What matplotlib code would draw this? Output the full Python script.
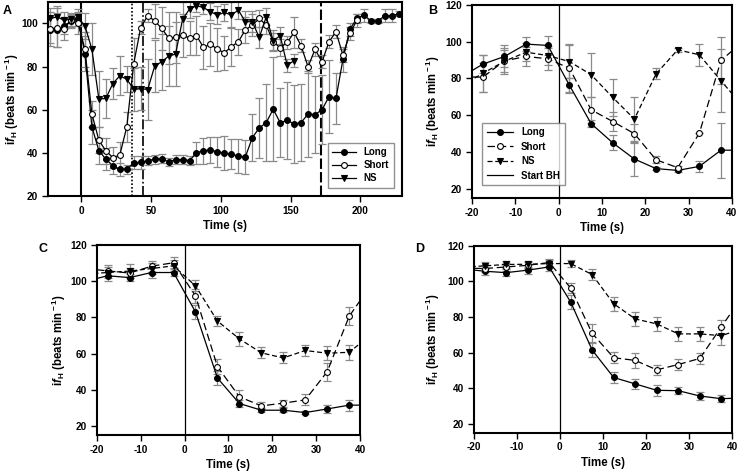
import numpy as np
import matplotlib
matplotlib.use('Agg')
import matplotlib.pyplot as plt

plt.rcParams['font.family'] = ['Liberation Sans', 'DejaVu Sans']
plt.rcParams['font.weight'] = 'bold'
plt.rcParams['axes.labelweight'] = 'bold'
plt.rcParams['axes.unicode_minus'] = False
plt.rcParams['mathtext.fontset'] = 'custom'
plt.rcParams['mathtext.rm'] = 'Liberation Sans:bold'
plt.rcParams['mathtext.it'] = 'Liberation Sans:bold:italic'
plt.rcParams['mathtext.bf'] = 'Liberation Sans:bold'

# ---------------- Panel A data ----------------
tA = np.arange(-22.5, 230, 5)
long_A = [97, 97, 99, 101, 102, 86, 52, 41, 37, 34, 32.3, 32.3, 35.3, 35.5, 36.4,
          37, 37.2, 35.8, 36.8, 36.8, 36.4, 40, 41, 41.3, 40.4, 39.8, 39.3, 38.5,
          38, 47, 51.5, 54, 60.2, 54, 55, 53.4, 54, 58, 57.7, 60, 66, 65.2, 83.3,
          97.4, 102.3, 103.9, 101.2, 101.2, 103.5, 103.5, 104.6]
long_A_err = [6, 8, 4, 3, 3, 8, 8, 6, 5, 4, 3, 2, 3, 3, 2, 2, 2, 2, 2, 2, 2, 5, 6,
              6, 7, 8, 7, 8, 8, 11, 14, 18, 24, 16, 18, 18, 18, 20, 18, 16, 17, 12,
              6, 3, 2, 3, 1, 1, 3, 3, 1]
short_A = [97.4, 98, 97.5, 101.5, 100.3, 88, 58, 45.8, 40.9, 37.8, 38.9, 52, 81.4,
           98.1, 103.6, 101.2, 97.7, 93.3, 93.5, 94.6, 93.3, 94.3, 88.9, 90.4, 88,
           86.4, 89.2, 91.5, 97, 99.2, 102.3, 99.2, 91.5, 88.7, 91.2, 95.8, 89.6,
           79.9, 88, 82.2, 91.5, 96.1, 85.3, 95.4, 101.5]
short_A_err = [8, 9, 5, 3, 5, 8, 6, 6, 6, 5, 6, 7, 12, 3, 3, 8, 10, 12, 12, 10, 8,
               9, 10, 10, 10, 8, 9, 6, 6, 5, 4, 4, 4, 4, 3, 7, 3, 3, 3, 3, 3, 3, 3,
               3, 3]
ns_A = [102.3, 103, 101.5, 102, 102.8, 98.9, 88, 64.9, 65.2, 72.1, 75.7, 74.1, 69.5,
        69.8, 69.3, 80.2, 82.2, 84.8, 85.8, 101.9, 106.7, 108.2, 107.4, 105.4, 103.9,
        105.1, 103.9, 106.2, 100.8, 100.8, 93.5, 103.1, 92, 94.3, 80.7, 82.7]
ns_A_err = [5, 5, 4, 3, 4, 6, 12, 13, 9, 7, 9, 6, 10, 10, 14, 12, 13, 14, 15, 8, 4,
            3, 3, 4, 4, 4, 6, 4, 5, 5, 5, 4, 5, 4, 3, 3]
vlines_A = [0, 36, 44, 172]

# ---------------- Panels B, C, D data ----------------
tB = [-22.5, -17.5, -12.5, -7.5, -2.5, 2.5, 7.5, 12.5, 17.5, 22.5, 27.5, 32.5, 37.5, 42.5]

long_B = [80.8, 87.8, 92, 98.7, 98, 76.3, 55.5, 45, 36.2, 31, 30, 32.2, 41, 41]
short_B = [81, 80.7, 89.6, 92, 90.7, 85.6, 63, 56.6, 50, 35.8, 31.5, 50.2, 89.8, 100]
ns_B = [76, 82.8, 89.4, 94.3, 92.5, 89.2, 82.1, 69.7, 57.9, 82.5, 95.6, 92.9, 78.8, 65]
long_B_err = [4, 5, 6, 4, 5, 4, 2, 4, 9, 1, 1, 3, 15, 3]
short_B_err = [6, 8, 7, 5, 6, 13, 7, 5, 5, 2, 1, 0, 13, 5]
ns_B_err = [6, 10, 6, 5, 5, 9, 12, 10, 12, 3, 1, 6, 17, 5]

long_C = [100, 103, 102, 104.8, 104.8, 83, 46.5, 32.4, 28.7, 28.7, 27.4, 29.4, 31.5, 31.5]
short_C = [107, 105.7, 104.5, 108.3, 110.2, 91.9, 52.8, 36.1, 31.1, 32.6, 34.4, 50, 80.6, 98]
ns_C = [104, 104.8, 105.6, 107, 108.5, 97.4, 78, 68.1, 60.4, 57.6, 61.7, 60.2, 60.7, 70.5]
long_C_err = [3, 3, 2, 3, 2, 4, 4, 2, 1, 1, 1, 2, 3, 3]
short_C_err = [3, 3, 3, 3, 3, 4, 4, 4, 2, 2, 3, 5, 5, 5]
ns_C_err = [3, 3, 4, 3, 3, 3, 3, 4, 3, 3, 3, 4, 4, 4]

long_D = [107, 105.7, 104.9, 106.3, 108.1, 88.4, 61.4, 46, 42.4, 38.8, 38.6, 35.6, 34.1, 34.5]
short_D = [107.5, 107.2, 108.1, 109, 110.6, 96.3, 70.8, 57.1, 55.6, 50.3, 53.3, 56.7, 74.4, 92]
ns_D = [108, 108.7, 109.5, 109.6, 110, 110, 103.8, 87.4, 78.9, 76.1, 70.5, 70.5, 69.5, 73.5]
long_D_err = [2, 2, 2, 2, 2, 4, 4, 3, 3, 3, 2, 2, 2, 2]
short_D_err = [2, 2, 2, 2, 2, 3, 5, 3, 4, 3, 3, 3, 4, 4]
ns_D_err = [2, 2, 2, 2, 2, 2, 3, 4, 4, 4, 4, 4, 5, 5]

ylabel = r'i$f_{\rm H}$ (beats min$^{\rm -1}$)'

ECOL = '#8a8a8a'
MS = 4.2
TICKFS = 7.2
LABFS = 8.3

fig = plt.figure(figsize=(7.38, 4.72), dpi=100)
axA = fig.add_axes([0.065, 0.585, 0.48, 0.411])
axB = fig.add_axes([0.6396, 0.5805, 0.352, 0.409])
axC = fig.add_axes([0.131, 0.0784, 0.357, 0.4025])
axD = fig.add_axes([0.642, 0.0833, 0.35, 0.396])


def style_axes(ax):
    for s in ax.spines.values():
        s.set_linewidth(1.5)
    ax.tick_params(direction='out', length=4, width=1, labelsize=TICKFS, pad=3)
    for lab in ax.get_xticklabels() + ax.get_yticklabels():
        lab.set_fontweight('bold')


def draw_series(ax, t, y, e, marker, face, ls, dashes=None, lw=0.9, label=None):
    t = np.asarray(t, float)[:len(y)]
    ax.errorbar(t, y, yerr=e, fmt='none', ecolor=ECOL, elinewidth=0.9,
                capsize=3, capthick=0.9, zorder=2)
    kw = dict(color='black', lw=lw, marker=marker, markersize=MS,
              markerfacecolor=face, markeredgecolor='black',
              markeredgewidth=0.8, zorder=3, label=label, linestyle=ls)
    line, = ax.plot(t, y, **kw)
    if dashes is not None:
        line.set_dashes(dashes)
    return line


# ---- Panel A ----
draw_series(axA, tA, long_A, long_A_err, 'o', 'black', '-', label='Long')
draw_series(axA, tA, short_A, short_A_err, 'o', 'white', '-', label='Short')
draw_series(axA, tA, ns_A, ns_A_err, 'v', 'black', '-', label='NS')
axA.axvline(vlines_A[0], color='black', lw=1.5, zorder=1)
axA.axvline(vlines_A[1], color='black', lw=1.2, ls=(0, (1, 1.2)), zorder=1)
axA.axvline(vlines_A[2], color='black', lw=1.2, ls=(0, (6, 1.5, 1, 1.5)), zorder=1)
axA.axvline(vlines_A[3], color='black', lw=1.5, ls=(0, (5, 1.5)), zorder=1)
axA.set_xlim(-24, 230)
axA.set_ylim(20, 110)
axA.set_xticks([0, 50, 100, 150, 200])
axA.set_yticks([20, 40, 60, 80, 100])
axA.set_xlabel('Time (s)', fontsize=LABFS, fontweight='bold', labelpad=3)
axA.set_ylabel(ylabel, fontsize=LABFS, fontweight='bold')
axA.yaxis.set_label_coords(-0.076, 0.5)
legA = axA.legend(loc='lower right', fontsize=7, frameon=True, fancybox=False,
                  edgecolor='#777777', handlelength=2.4, borderpad=0.5,
                  labelspacing=0.3, bbox_to_anchor=(0.99, 0.015))
legA.get_frame().set_linewidth(1.0)
for txt in legA.get_texts():
    txt.set_fontweight('bold')
style_axes(axA)

# ---- Panels B, C, D ----
SHORT_DASH = (6, 3)
NS_DASH = (4, 2.2)
panels = [(axB, long_B, long_B_err, short_B, short_B_err, ns_B, ns_B_err, -0.115),
          (axC, long_C, long_C_err, short_C, short_C_err, ns_C, ns_C_err, -0.109),
          (axD, long_D, long_D_err, short_D, short_D_err, ns_D, ns_D_err, -0.123)]
for ax, lv, le, sv, se, nv, ne, lx in panels:
    draw_series(ax, tB, lv, le, 'o', 'black', '-', label='Long')
    draw_series(ax, tB, sv, se, 'o', 'white', '--', dashes=SHORT_DASH, label='Short')
    draw_series(ax, tB, nv, ne, 'v', 'black', '--', dashes=NS_DASH, label='NS')
    ax.axvline(0, color='black', lw=0.9, zorder=1, label='Start BH')
    ax.set_xlim(-20, 40)
    ax.set_ylim(15, 120)
    ax.set_xticks([-20, -10, 0, 10, 20, 30, 40])
    ax.set_yticks([20, 40, 60, 80, 100, 120])
    ax.set_xlabel('Time (s)', fontsize=LABFS, fontweight='bold', labelpad=3)
    ax.set_ylabel(ylabel, fontsize=LABFS, fontweight='bold')
    ax.yaxis.set_label_coords(lx, 0.5)
    style_axes(ax)

legB = axB.legend(loc='lower left', fontsize=7, frameon=True, fancybox=False,
                  edgecolor='#777777', handlelength=2.7, borderpad=0.5,
                  labelspacing=0.45, bbox_to_anchor=(0.02, 0.04))
legB.get_frame().set_linewidth(1.0)
for txt in legB.get_texts():
    txt.set_fontweight('bold')

fig.text(0.004, 0.99, 'A', fontsize=9, fontweight='bold', va='top')
fig.text(0.580, 0.99, 'B', fontsize=9, fontweight='bold', va='top')
fig.text(0.052, 0.485, 'C', fontsize=9, fontweight='bold', va='top')
fig.text(0.563, 0.485, 'D', fontsize=9, fontweight='bold', va='top')

fig.savefig('out.png', dpi=100)
